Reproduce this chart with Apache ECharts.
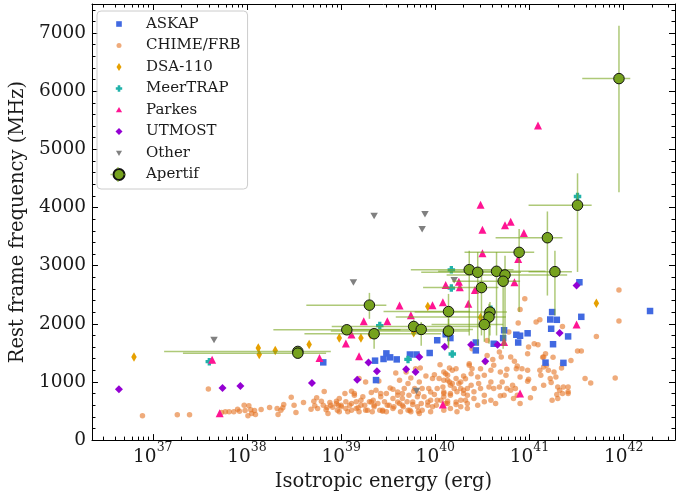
<!DOCTYPE html>
<html><head><meta charset="utf-8">
<script src="https://cdn.jsdelivr.net/npm/echarts@6/dist/echarts.min.js"></script>
<style>html,body{margin:0;padding:0;background:#fff}#c{width:676px;height:497px}</style>
</head><body><div id="c"></div>
<script>
// ---- axis ranges (x in log10 erg) ----
const X_MIN = 36.354, X_MAX = 42.545;
const Y_MIN = 0, Y_MAX = 7500;
const xMajorExp = [37, 38, 39, 40, 41, 42];
const yMajor = [0, 1000, 2000, 3000, 4000, 5000, 6000, 7000];

// ---- data: [log10 isotropic energy (erg), rest frame frequency (MHz)] ----
const ASKAP = [[38.81,1337],[39.36,1366],[39.37,1032],[39.45,1395],[39.48,1491],[39.52,1423],[39.59,1388],[39.73,1472],[39.80,1472],[39.94,1498],[40.02,1717],[40.11,1820],[40.16,1755],[40.43,1678],[40.43,1543],[40.73,1889],[40.72,1755],[40.86,1812],[40.90,1795],[40.98,1837],[40.88,1678],[40.62,1657],[41.24,2202],[41.22,2074],[41.29,2069],[41.23,1915],[41.25,1649],[41.41,1783],[41.17,1332],[41.36,1328],[41.53,2715],[41.55,2120],[42.28,2220]];

const CHIME = [[36.89,418],[37.26,435],[37.39,435],[37.59,878],[37.73,475],[37.77,487],[37.81,487],[37.86,487],[37.90,531],[37.92,497],[37.97,600],[37.98,509],[38.01,418],[38.02,590],[38.04,521],[38.05,458],[38.08,509],[38.09,440],[38.15,526],[38.24,560],[38.32,543],[38.33,440],[38.36,514],[38.38,555],[38.39,612],[38.47,737],[38.50,600],[38.52,475],[38.60,646],[38.68,531],[38.71,668],[38.72,590],[38.74,727],[38.75,543],[38.79,668],[38.81,600],[38.82,835],[38.84,521],[38.85,560],[38.88,646],[38.86,458],[38.91,566],[38.95,668],[38.97,600],[38.98,487],[39.40,1018],
[38.95,629],[38.98,715],[39.00,572],[39.04,800],[39.05,658],[39.09,600],[39.11,840],[39.11,514],[39.14,800],[39.16,658],[39.18,555],[39.19,1058],[39.21,686],[39.23,744],[39.25,600],[39.26,1001],[39.28,514],[39.30,658],[39.32,818],[39.34,686],[39.35,600],[39.37,857],[39.39,629],[39.41,514],[39.42,744],[39.44,497],[39.46,658],[39.48,800],[39.51,600],[39.52,898],[39.55,715],[39.56,572],[39.58,1155],[39.60,771],[39.62,629],[39.62,1028],[39.65,715],[39.66,572],[39.67,886],[39.69,1172],[39.70,658],[39.72,771],[39.73,514],[39.74,1070],[39.76,612],[39.78,886],[39.79,1229],[39.81,744],[39.82,497],[39.83,1001],[39.84,1241],[39.85,629],[39.86,886],[39.88,744],[39.90,1104],[39.92,600],[39.93,886],[39.95,686],[39.97,1058],[39.99,783],[40.01,600],[40.02,886],[40.04,1058],[40.05,1297],[40.06,686],[40.08,915],[40.09,800],[40.11,1143],[40.13,629],[40.15,1001],[40.15,1241],
[39.99,1126],[40.09,1171],[40.22,1229],[40.13,1029],[40.18,972],[40.25,972],[40.32,1057],[39.71,972],[39.14,772],[39.42,800],[39.55,874],[39.60,829],[39.65,800],[39.77,840],[39.82,800],[39.95,829],[40.09,829],[40.16,800],[40.30,857],[40.34,772],
[39.00,600],[39.05,543],[39.11,629],[39.16,543],[39.21,600],[39.26,514],[39.32,657],[39.35,572],[39.44,514],[39.49,600],[39.55,543],[39.60,657],[39.65,600],[39.71,514],[39.76,657],[39.81,572],[39.86,514],[39.92,657],[39.97,572],[40.02,686],[40.11,629],[40.16,543],[40.22,657],[40.27,572],[40.32,686],[38.89,600],[38.96,514],[39.07,486],[39.19,486],[39.33,486],[39.48,486],[39.63,486],[39.74,486],[39.83,457],[39.95,486],[40.09,514],[40.23,486],[40.34,543],
[40.95,2429],[40.90,2245],[40.88,2012],[41.07,2029],[41.11,2069],[40.78,1858],[40.61,1388],[40.68,1515],[40.70,1429],[40.76,1217],[40.80,1429],[40.84,1354],[40.87,1275],[40.86,1229],[40.75,1114],[40.69,1172],[40.62,1286],[40.59,1200],[40.55,1457],[40.53,1344],[40.52,1114],[40.48,1229],[40.45,1087],[40.39,1229],[40.36,1286],[40.38,1143],[40.30,1104],[40.27,1001],[40.22,1058],[40.18,1200],[40.13,1114],[40.09,1028],[40.16,943],[40.20,886],[40.23,830],[40.27,886],[40.30,800],[40.34,886],[40.38,943],[40.41,830],[40.46,972],[40.48,886],[40.52,771],[40.57,915],[40.59,1001],[40.62,886],[40.68,915],[40.71,1001],[40.73,771],[40.76,886],[40.80,857],[40.82,943],[40.85,886],[40.87,771],[40.90,1087],[40.98,1011],[40.99,1046],[41.05,886],[41.01,727],[40.90,629],[40.83,715],[40.69,761],[40.64,629],[40.59,686],[40.52,658],[40.45,600],[40.41,715],[40.34,629],[40.27,686],[40.22,612],[40.16,771],[40.13,668],[40.09,744],[41.15,943],[41.22,1058],[41.11,1200],[41.18,1286],[41.26,1172],[41.28,1087],[41.30,915],[41.32,857],[41.24,686],[41.30,715],[41.35,800],[41.15,1258],[41.05,1657],[41.09,1640],[40.99,1601],[41.15,1429],[41.17,1486],[41.12,1114],[41.20,1200],[40.98,1486],[40.92,1229],
[41.95,2583],[41.95,2047],[41.71,1783],[41.51,1532],[41.55,1532],[41.44,1371],[41.59,1058],[41.65,984],[41.91,1070],[41.41,915],[41.41,830],[41.41,800],[41.36,915],[41.35,1954],[41.34,1241],[41.29,783],
[40.39,1572],[40.36,1315],[40.55,1714],[40.98,1200],[41.14,1423],[41.25,1423],[41.35,1309],[41.23,989]];

const DSA110 = [[36.80,1429],[38.12,1584],[38.13,1474],[38.30,1543],[38.66,1645],[38.98,1755],[39.21,1755],[39.31,1812],[39.77,1846],[39.92,2297],[40.48,2108],[41.71,2355]];

const MEERTRAP = [[37.60,1349],[39.41,1969],[39.71,1388],[40.17,2929],[40.17,2614],[40.18,1481],[40.59,2249],[41.51,4189]];

const PARKES = [[37.63,1383],[37.71,463],[38.77,1412],[39.05,1661],[39.11,1815],[39.19,1440],[39.24,2043],[39.49,2043],[39.62,2314],[39.74,2146],[39.97,2317],[40.08,2372],[40.11,2669],[40.25,2725],[40.26,2629],[40.42,2583],[40.35,2343],[40.48,4048],[40.50,3617],[40.74,3697],[40.80,3754],[40.94,3560],[40.50,3212],[40.88,3114],[40.84,2715],[40.73,1687],[40.90,800],[40.08,612],[41.50,1988],[41.09,5411]];

const UTMOST = [[36.64,874],[37.74,898],[37.93,932],[38.69,984],[39.17,1037],[39.29,1335],[39.38,1183],[39.69,1217],[39.79,1172],[39.83,1431],[40.10,1606],[40.38,1640],[40.53,1354],[40.66,1640],[41.32,1841],[41.50,2657]];

const OTHER = [[37.65,1721],[39.13,2712],[39.35,3855],[39.89,3886],[39.86,3628],[40.20,2749],[39.80,843]];

// Apertif: value, and asymmetric errors (dex in energy, MHz in frequency)
const apertifE    = [38.54,38.54,39.06,39.30,39.35,39.77,39.85,40.14,40.14,40.36,40.45,40.49,40.65,40.74,40.72,40.58,40.57,40.52,40.89,41.19,41.27,41.51,41.95];
const apertifF    = [1525,1495,1897,2321,1829,1954,1903,2211,1875,2931,2886,2623,2903,2840,2732,2201,2115,1988,3229,3480,2897,4040,6217];
const apertifElo  = [1.42,1.22,0.78,0.67,0.74,0.87,0.75,0.69,1.25,0.62,0.60,0.62,0.62,0.62,0.54,0.80,0.99,0.56,0.58,0.55,0.28,0.52,0.39];
const apertifEhi  = [0.35,0.30,0.57,0.18,0.71,0.82,0.55,0.23,0.22,0.47,0.46,0.18,0.52,0.66,0.18,0.18,0.18,0.20,0.16,0.16,0.18,0.15,0.12];
const apertifFlo  = [40,40,60,235,257,160,280,583,300,1131,1258,823,1104,1212,1160,401,458,297,1028,994,754,1148,1954];
const apertifFhi  = [40,40,60,211,86,120,130,303,210,326,348,206,331,331,210,176,229,218,400,452,360,548,908];

// ---- styling ----
const FONT = 'DejaVu Serif';
const INK = '#1a1a1a';
const ERR = 'rgba(120,165,30,0.6)';

const xMinor = [];
for (let n = 36; n <= 42; n++) for (let k = 2; k <= 9; k++) {
  const v = n + Math.log10(k);
  if (v > X_MIN && v < X_MAX) xMinor.push(v);
}
const yMinor = [];
for (let v = 200; v < Y_MAX; v += 200) if (v % 1000 !== 0) yMinor.push(v);

function xAx(pos, ticks, len, line, labels) {
  const a = {
    type: 'value', position: pos, min: X_MIN, max: X_MAX,
    axisLine: {show: line, onZero: false, lineStyle: {color: '#000', width: 1}},
    axisTick: {show: true, inside: true, length: len, customValues: ticks, lineStyle: {color: '#000', width: 1}},
    axisLabel: {show: false}, splitLine: {show: false}
  };
  if (labels) {
    a.axisLabel = {
      show: true, customValues: xMajorExp, margin: 1,
      formatter: v => '{b|10}{s|' + Math.round(v) + '}',
      rich: {
        b: {fontFamily: FONT, fontSize: 18.5, color: INK, lineHeight: 26, verticalAlign: 'bottom'},
        s: {fontFamily: FONT, fontSize: 12.5, color: INK, lineHeight: 10, verticalAlign: 'top'}
      }
    };
    a.name = 'Isotropic energy (erg)';
    a.nameLocation = 'middle';
    a.nameGap = 30;
    a.nameTextStyle = {fontFamily: FONT, fontSize: 19.5, color: INK};
  }
  return a;
}
function yAx(pos, ticks, len, line, labels) {
  const a = {
    type: 'value', position: pos, min: Y_MIN, max: Y_MAX,
    axisLine: {show: line, onZero: false, lineStyle: {color: '#000', width: 1}},
    axisTick: {show: true, inside: true, length: len, customValues: ticks, lineStyle: {color: '#000', width: 1}},
    axisLabel: {show: false}, splitLine: {show: false}
  };
  if (labels) {
    a.axisLabel = {show: true, customValues: yMajor, margin: 6, fontFamily: FONT, fontSize: 18.5, color: INK,
                   formatter: v => String(Math.round(v))};
    a.name = 'Rest frame frequency (MHz)';
    a.nameLocation = 'middle';
    a.nameGap = 61;
    a.nameTextStyle = {fontFamily: FONT, fontSize: 19.5, color: INK};
  }
  return a;
}

function sc(name, data, symbol, size, color, extra) {
  return Object.assign({
    type: 'scatter', name, data, symbol, symbolSize: size,
    itemStyle: {color, opacity: 1}, emphasis: {disabled: true}, silent: true
  }, extra || {});
}

const DOWN_TRI = 'path://M0,0L10,0L5,8.66Z';
const PLUS = 'path://M2.8,0H7.2V2.8H10V7.2H7.2V10H2.8V7.2H0V2.8H2.8Z';

const chart = echarts.init(document.getElementById('c'), null, {renderer: 'canvas'});
chart.setOption({
  animation: false,
  backgroundColor: '#fff',
  grid: {left: 90, right: 1, top: 4, bottom: 55.3, containLabel: false},
  xAxis: [
    xAx('bottom', xMajorExp, 6, true, true),
    xAx('bottom', xMinor, 3.5, false, false),
    xAx('top', xMajorExp, 6, true, false),
    xAx('top', xMinor, 3.5, false, false)
  ],
  yAxis: [
    yAx('left', yMajor, 6, true, true),
    yAx('left', yMinor, 3.5, false, false),
    yAx('right', yMajor, 6, true, false),
    yAx('right', yMinor, 3.5, false, false)
  ],
  legend: {
    orient: 'vertical', left: 97, top: 11,
    padding: [4.5, 7, 6, 15.5],
    itemWidth: 11, itemHeight: 11, itemGap: 4.5,
    backgroundColor: 'rgba(255,255,255,0.8)', borderColor: '#cccccc', borderWidth: 1, borderRadius: 4,
    textStyle: {fontFamily: FONT, fontSize: 15, color: INK, lineHeight: 17, padding: [0, 0, 0, 16.5]},
    selectedMode: false,
    data: [
      {name: 'ASKAP', icon: 'path://M0,0M11,11M2.7,2.7H8.3V8.3H2.7Z'},
      {name: 'CHIME/FRB', icon: 'path://M0,0M11,11M8,5.5A2.5,2.5 0 1 1 3,5.5A2.5,2.5 0 1 1 8,5.5Z'},
      {name: 'DSA-110', icon: 'path://M0,0M11,11M5.5,1.5L8,5.5L5.5,9.5L3,5.5Z'},
      {name: 'MeerTRAP', icon: 'path://M0,0M11,11M4.2,2.3H6.8V4.2H8.7V6.8H6.8V8.7H4.2V6.8H2.3V4.2H4.2Z'},
      {name: 'Parkes', icon: 'path://M0,0M11,11M5.5,2.4L8.6,7.8H2.4Z'},
      {name: 'UTMOST', icon: 'path://M0,0M11,11M5.5,2L9,5.5L5.5,9L2,5.5Z'},
      {name: 'Other', icon: 'path://M0,0M11,11M2.5,3.2H8.5L5.5,8.4Z'},
      {name: 'Apertif', icon: 'circle'}
    ]
  },
  graphic: [
    {type: 'line', z: 100, shape: {x1: 110.5, y1: 174.5, x2: 112.6, y2: 174.5}, style: {stroke: ERR, lineWidth: 1.5}},
    {type: 'line', z: 100, shape: {x1: 123.4, y1: 174.5, x2: 125.5, y2: 174.5}, style: {stroke: ERR, lineWidth: 1.5}},
    {type: 'line', z: 100, shape: {x1: 118, y1: 167, x2: 118, y2: 169.1}, style: {stroke: ERR, lineWidth: 1.5}},
    {type: 'line', z: 100, shape: {x1: 118, y1: 179.9, x2: 118, y2: 182}, style: {stroke: ERR, lineWidth: 1.5}}
  ],
  series: [
    sc('CHIME/FRB', CHIME, 'circle', 5.5, 'rgba(228,115,35,0.6)'),
    sc('ASKAP', ASKAP, 'rect', 6.5, '#4169E1'),
    sc('DSA-110', DSA110, 'diamond', [5.5, 9.5], '#E6A000', {symbolKeepAspect: false}),
    sc('MeerTRAP', MEERTRAP, PLUS, 7.5, '#20B2AA'),
    sc('Parkes', PARKES, 'triangle', 8, '#FF1493'),
    sc('UTMOST', UTMOST, 'diamond', 8, '#9400D3'),
    sc('Other', OTHER, DOWN_TRI, 7.5, '#808080', {symbolKeepAspect: true}),
    {
      type: 'custom', name: 'Apertif-err', z: 3, silent: true,
      data: apertifE.map((e, i) => [e, apertifF[i], apertifElo[i], apertifEhi[i], apertifFlo[i], apertifFhi[i]]),
      encode: {x: 0, y: 1},
      renderItem: function (params, api) {
        const x = api.value(0), y = api.value(1);
        const a = api.coord([x - api.value(2), y]), b = api.coord([x + api.value(3), y]);
        const c = api.coord([x, y - api.value(4)]), d = api.coord([x, y + api.value(5)]);
        const st = {stroke: ERR, lineWidth: 1.5};
        return {type: 'group', children: [
          {type: 'line', shape: {x1: a[0], y1: a[1], x2: b[0], y2: b[1]}, style: st},
          {type: 'line', shape: {x1: c[0], y1: c[1], x2: d[0], y2: d[1]}, style: st}
        ]};
      }
    },
    sc('Apertif', apertifE.map((e, i) => [e, apertifF[i]]), 'circle', 10.5, '#76A21E',
       {z: 4, itemStyle: {color: '#76A21E', borderColor: '#111', borderWidth: 1, opacity: 1}})
  ]
});
</script>
</body></html>
